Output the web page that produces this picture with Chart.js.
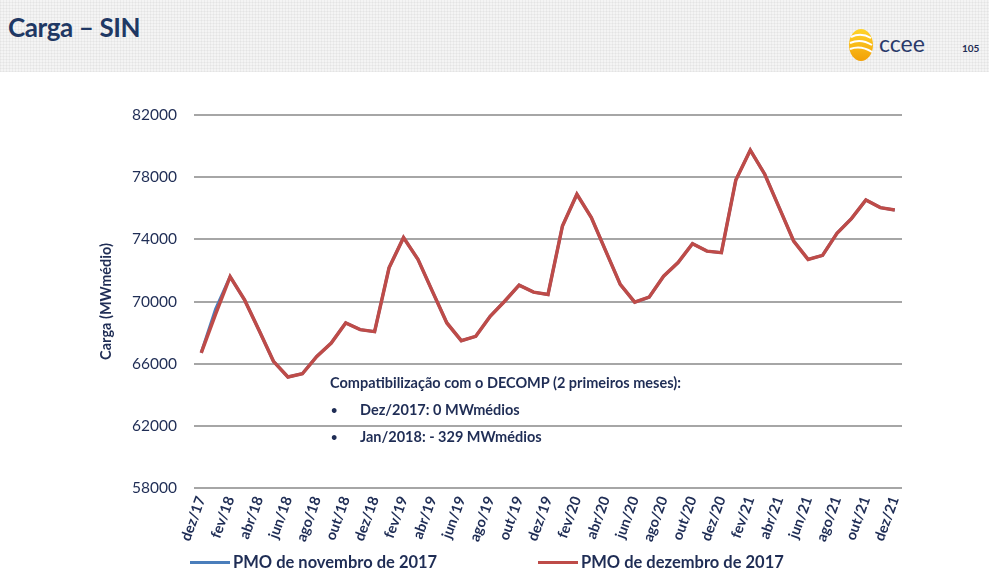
<!DOCTYPE html>
<html lang="pt">
<head>
<meta charset="utf-8">
<title>Carga – SIN</title>
<script src="https://cdn.jsdelivr.net/npm/chart.js@4.4.1/dist/chart.umd.min.js"></script>
<style>
  html, body { margin: 0; padding: 0; background: #fff; }
  body { width: 989px; height: 569px; position: relative; overflow: hidden; font-family: Lato, "Open Sans", sans-serif; color: #1f2d55; }
  #band {
    position: absolute; left: 0; top: 0; width: 989px; height: 72px;
    background-color: #f4f4f4;
    background-image:
      repeating-linear-gradient(0deg, rgba(0,0,0,0.035) 0 1px, transparent 1px 3px),
      repeating-linear-gradient(90deg, rgba(0,0,0,0.035) 0 1px, transparent 1px 3px);
  }
  #title { position: absolute; left: 8px; top: 11px; font-size: 26px; font-weight: bold; color: #1f3864; letter-spacing: -0.4px; }
  #logo { position: absolute; left: 848px; top: 28px; width: 26px; height: 34px; }
  #logoText { position: absolute; left: 879px; top: 29px; font-size: 23px; color: #2a3a6a; letter-spacing: 0px; }
  #page { position: absolute; left: 962px; top: 42px; font-size: 10px; font-weight: bold; color: #1f2d55; }
  canvas { position: absolute; left: 0; top: 0; }
  .note { position: absolute; font-size: 14.5px; font-weight: bold; color: #1f2d55; white-space: nowrap; }
  .bullet { position: absolute; font-size: 11px; font-weight: bold; color: #1f2d55; }
  .legend { position: absolute; top: 552px; font-size: 16.5px; font-weight: bold; color: #1f2d55; white-space: nowrap; }
  .legend span { display: inline-block; width: 40px; height: 3px; vertical-align: middle; margin-right: 3px; position: relative; top: -1px; }
</style>
</head>
<body>
<div id="band"></div>
<div id="title">Carga – SIN</div>
<svg id="logo" viewBox="0 0 26 34">
  <defs>
    <linearGradient id="sun" x1="0" y1="0" x2="0" y2="1">
      <stop offset="0" stop-color="#ffd42a"/>
      <stop offset="1" stop-color="#f2a007"/>
    </linearGradient>
  </defs>
  <ellipse cx="13" cy="17" rx="12" ry="16" fill="url(#sun)"/>
  <path d="M3 9 Q13 4 23 10" stroke="#fff" stroke-width="2" fill="none"/>
  <path d="M2 15 Q13 10 24 17" stroke="#fff" stroke-width="2" fill="none"/>
  <path d="M2 21 Q13 17 24 24" stroke="#fff" stroke-width="2" fill="none"/>
</svg>
<div id="logoText">ccee</div>
<div id="page">105</div>

<canvas id="cargaChart" width="989" height="569"></canvas>

<div class="note" style="left:330px; top:374px;">Compatibilização com o DECOMP (2 primeiros meses):</div>
<div class="bullet" style="left:331px; top:403px;">•</div>
<div class="note" style="left:360px; top:401px;">Dez/2017: 0 MWmédios</div>
<div class="bullet" style="left:331px; top:430px;">•</div>
<div class="note" style="left:360px; top:428px;">Jan/2018: - 329 MWmédios</div>

<div class="legend" style="left:190px;"><span style="background:#4a7ebb"></span>PMO de novembro de 2017</div>
<div class="legend" style="left:538px;"><span style="background:#be4b48"></span>PMO de dezembro de 2017</div>

<script>
// meses do horizonte (dez/17 a dez/21)
const meses = [
  'dez/17',
  'jan/18', 'fev/18', 'mar/18', 'abr/18', 'mai/18', 'jun/18', 'jul/18', 'ago/18', 'set/18', 'out/18', 'nov/18', 'dez/18',
  'jan/19', 'fev/19', 'mar/19', 'abr/19', 'mai/19', 'jun/19', 'jul/19', 'ago/19', 'set/19', 'out/19', 'nov/19', 'dez/19',
  'jan/20', 'fev/20', 'mar/20', 'abr/20', 'mai/20', 'jun/20', 'jul/20', 'ago/20', 'set/20', 'out/20', 'nov/20', 'dez/20',
  'jan/21', 'fev/21', 'mar/21', 'abr/21', 'mai/21', 'jun/21', 'jul/21', 'ago/21', 'set/21', 'out/21', 'nov/21', 'dez/21'
];

// carga (MWmédio) - PMO de dezembro de 2017
const pmoDezembro = [
  66700,
  69200, 71600, 70100, 68150, 66150, 65140, 65350, 66470, 67330, 68620, 68190, 68060,
  72170, 74110, 72710, 70650, 68620, 67480, 67760, 69050, 70020, 71050, 70600, 70450,
  74860, 76900, 75400, 73240, 71100, 69960, 70280, 71630, 72500, 73720, 73240, 73140,
  77820, 79740, 78190, 76040, 73890, 72710, 72970, 74390, 75330, 76530, 76040, 75890
];

// carga (MWmédio) - PMO de novembro de 2017
const pmoNovembro = [
  66700,
  69529, 71600, 70100, 68150, 66150, 65140, 65350, 66470, 67330, 68620, 68190, 68060,
  72170, 74110, 72710, 70650, 68620, 67480, 67760, 69050, 70020, 71050, 70600, 70450,
  74860, 76900, 75400, 73240, 71100, 69960, 70280, 71630, 72500, 73720, 73240, 73140,
  77820, 79740, 78190, 76040, 73890, 72710, 72970, 74390, 75330, 76530, 76040, 75890
];

// eixo y
const yMin = 58000;
const yMax = 82000;
const yPasso = 4000;

const azulEscuro = '#1f2d55';
const fonte = 'Lato, "Open Sans", sans-serif';

const ctx = document.getElementById('cargaChart').getContext('2d');
const cargaChart = new Chart(ctx, {
  type: 'line',
  data: {
    labels: meses,
    datasets: [
      {
        label: 'PMO de dezembro de 2017',
        data: pmoDezembro,
        borderColor: '#be4b48',
        borderWidth: 3.5,
        pointRadius: 0,
        tension: 0,
        fill: false,
      },
      {
        label: 'PMO de novembro de 2017',
        data: pmoNovembro,
        borderColor: '#4a7ebb',
        borderWidth: 3,
        pointRadius: 0,
        tension: 0,
        fill: false,
      }
    ]
  },
  options: {
    responsive: false,
    animation: false,
    layout: { padding: { left: 94, top: 115, right: 87, bottom: 0 } },
    plugins: {
      legend: { display: false },
      tooltip: { enabled: false },
    },
    scales: {
      x: {
        offset: true,
        grid: { display: false, drawTicks: false },
        border: { display: false },
        ticks: {
          autoSkip: false,
          minRotation: 70,
          maxRotation: 70,
          padding: 6,
          color: azulEscuro,
          font: { family: fonte, size: 14.5, weight: 'bold' },
          callback: function (v, i) {
            return i % 2 ? null : this.getLabelForValue(v);
          }
        },
        afterFit: (s) => { s.height = 81; }
      },
      y: {
        min: yMin,
        max: yMax,
        grid: { color: '#a6a6a6', lineWidth: 2, drawTicks: false },
        border: { display: false },
        ticks: {
          stepSize: yPasso,
          padding: 17,
          color: azulEscuro,
          font: { family: fonte, size: 15.5 },
          callback: (v) => String(v)
        },
        title: {
          display: true,
          text: 'Carga (MWmédio)',
          color: azulEscuro,
          font: { family: fonte, size: 14.5, weight: 'bold' },
        },
        afterFit: (s) => { s.width = 100; }
      }
    }
  }
});
</script>
</body>
</html>
